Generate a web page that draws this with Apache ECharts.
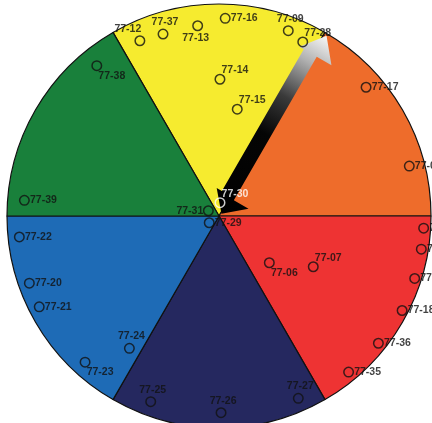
<!DOCTYPE html>
<html>
<head>
<meta charset="utf-8">
<script src="https://cdn.jsdelivr.net/npm/echarts@6/dist/echarts.min.js"></script>
<style>
html,body{margin:0;padding:0;background:#fff;}
#chart{width:432px;height:423px;}
</style>
</head>
<body>
<div id="chart"></div>
<script>
// Colour wheel sectors (clockwise from the top-left boundary)
const sectorNames  = ['Yellow', 'Orange', 'Red', 'Navy', 'Blue', 'Green'];
const sectorValues = [1, 1, 1, 1, 1, 1];

// Sample points: label, normalised radius (0..1), angle in degrees (0 = east, counter-clockwise)
const pointLabels = ['77-12','77-37','77-13','77-16','77-09','77-28','77-14','77-15','77-17','77-08',
                     '77-30','77-31','77-29','77-38','77-39','77-22','77-20','77-21','77-24','77-23',
                     '77-25','77-26','77-27','77-06','77-07','77-35','77-36','77-18','77-19','77-10','77-11'];
const pointRadius = [0.907,0.898,0.903,0.933,0.933,0.911,0.645,0.511,0.922,0.928,
                     0.063,0.056,0.056,0.914,0.921,0.947,0.949,0.950,0.754,0.935,
                     0.933,0.928,0.938,0.324,0.505,0.957,0.962,0.972,0.969,0.967,0.967];
const pointAngle  = [114.3,107.1,96.4,88.2,69.5,64.3,89.6,80.3,41.2,14.7,
                     85.7,153.7,214.6,129.1,175.4,186.0,199.5,206.8,235.9,227.5,
                     249.8,270.6,293.5,317.1,331.7,309.7,321.4,332.7,342.3,350.7,356.6];
// Label placement keyword per point
const labelPlace  = ['topLeft','top','bottom','right','top','topRight','topRight','topRight','right','right',
                     'topRight','left','right','bottomRight','right','right','right','right','top','bottomRight',
                     'top','top','top','bottomRight','topRight','right','right','right','right','right','right'];

// Arrow: from centre outwards along this angle
const arrowAngle = 60;
const arrowFrom = 0;
const arrowTo = 0.99;

const sectorColors = ['#F6EB2F', '#EE6C2B', '#EE3333', '#25285F', '#1E6BB6', '#19803B'];
const placeOffset = {
  right: [19, 0], left: [-18.5, 0], top: [2, -12], topLeft: [-12, -12],
  topRight: [15, -9], bottom: [-2, 12], bottomRight: [15, 10]
};
const CX = 219, CY = 216, R = 212;

const chart = echarts.init(document.getElementById('chart'), null, {renderer: 'canvas'});

const scatterData = pointLabels.map((lab, i) => {
  const white = lab === '77-30';
  return {
    name: lab,
    value: [pointRadius[i], pointAngle[i]],
    itemStyle: {borderColor: white ? '#ffffff' : '#111111'},
    label: {offset: placeOffset[labelPlace[i]], color: white ? '#ffffff' : '#111111'}
  };
});

const option = {
  animation: false,
  backgroundColor: '#ffffff',
  polar: {center: [CX, CY], radius: R},
  angleAxis: {type: 'value', min: 0, max: 360, startAngle: 0, clockwise: false, show: false},
  radiusAxis: {type: 'value', min: 0, max: 1, show: false},
  series: [
    {
      type: 'pie',
      center: [CX, CY],
      radius: R,
      startAngle: 120,
      clockwise: true,
      silent: true,
      z: 1,
      label: {show: false},
      labelLine: {show: false},
      itemStyle: {borderColor: '#111', borderWidth: 1.2},
      data: sectorNames.map((n, i) => ({name: n, value: sectorValues[i], itemStyle: {color: sectorColors[i]}}))
    },
    {
      type: 'custom',
      coordinateSystem: 'polar',
      silent: true,
      z: 3,
      data: [[arrowFrom, arrowAngle, arrowTo]],
      renderItem: function (params, api) {
        const tail = api.coord([api.value(0), api.value(1)]);
        const tip = api.coord([api.value(2), api.value(1)]);
        const dx = tip[0] - tail[0], dy = tip[1] - tail[1];
        const L = Math.sqrt(dx * dx + dy * dy);
        const u = [dx / L, dy / L];
        const n = [u[1], -u[0]];
        const pt = (f, o) => [tail[0] + u[0] * f * L + n[0] * o, tail[1] + u[1] * f * L + n[1] * o];
        const pts = [
          pt(0.015, -1), pt(0.11, 16), pt(0.11, 10), pt(0.89, 10), pt(0.89, 15),
          pt(1.0, -3), pt(0.89, -22), pt(0.89, -5), pt(0.10, -5), pt(0.10, -22)
        ];
        return {
          type: 'polygon',
          shape: {points: pts},
          style: {
            fill: new echarts.graphic.LinearGradient(tail[0], tail[1], tip[0], tip[1], [
              {offset: 0, color: '#000000'},
              {offset: 0.45, color: '#050505'},
              {offset: 0.65, color: '#3a3a3a'},
              {offset: 0.85, color: '#b0b0b0'},
              {offset: 1, color: '#f8f8f8'}
            ], true),
            stroke: null
          }
        };
      }
    },
    {
      type: 'scatter',
      coordinateSystem: 'polar',
      silent: true,
      z: 5,
      symbol: 'circle',
      symbolSize: 9.5,
      itemStyle: {color: 'rgba(0,0,0,0)', borderColor: '#111', borderWidth: 1.5},
      label: {
        show: true,
        position: 'inside',
        formatter: '{b}',
        fontFamily: "'Liberation Sans Narrow', 'Arial Narrow', Arial, 'Liberation Sans', sans-serif",
        fontWeight: 'bold',
        fontSize: 10.5,
        color: '#111'
      },
      data: scatterData
    }
  ]
};
chart.setOption(option);
</script>
</body>
</html>
